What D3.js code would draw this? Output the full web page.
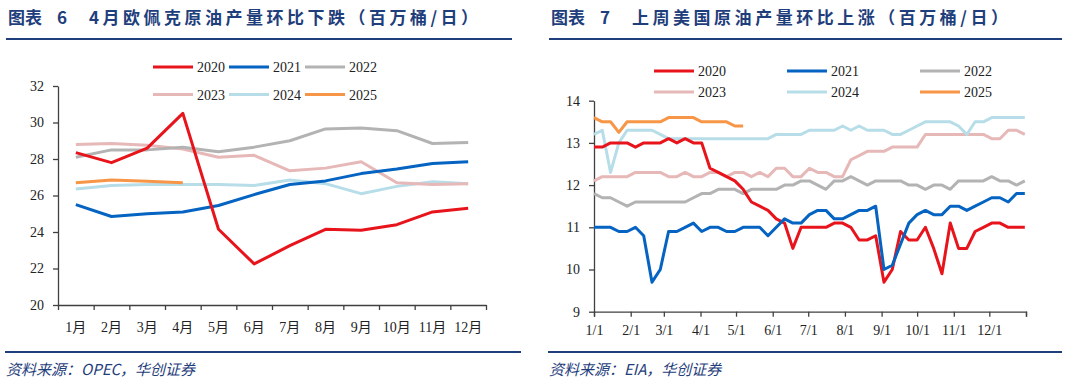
<!DOCTYPE html>
<html>
<head>
<meta charset="utf-8">
<script src="https://cdn.jsdelivr.net/npm/d3@7"></script>
<style>
  body { margin: 0; background: #fff; }
  svg { display: block; }
</style>
</head>
<body>
<svg id="chart" width="1066" height="383"></svg>
<script>
// ---- data: left chart (OPEC monthly, mb/d)
var months = ["1月","2月","3月","4月","5月","6月","7月","8月","9月","10月","11月","12月"];
var opec2020 = [28.35, 27.8, 28.6, 30.5, 24.15, 22.25, 23.25, 24.15, 24.1, 24.4, 25.1, 25.3];
var opec2021 = [25.5, 24.85, 25.0, 25.1, 25.45, 26.05, 26.6, 26.8, 27.2, 27.45, 27.75, 27.85];
var opec2022 = [28.1, 28.5, 28.5, 28.65, 28.4, 28.65, 29.0, 29.65, 29.7, 29.55, 28.85, 28.9];
var opec2023 = [28.8, 28.85, 28.75, 28.55, 28.1, 28.2, 27.35, 27.5, 27.85, 26.7, 26.6, 26.65];
var opec2024 = [26.35, 26.55, 26.6, 26.6, 26.6, 26.55, 26.85, 26.65, 26.1, 26.5, 26.75, 26.65];
var opec2025 = [26.7, 26.85, 26.78, 26.7];

// ---- data: right chart (US weekly, mb/d), one value per week from 1/1
var us2020 = [12.9,12.9,13.0,13.0,13.0,12.9,13.0,13.0,13.0,13.1,13.0,13.1,13.0,13.0,12.4,12.3,12.2,12.1,11.9,11.6,11.5,11.4,11.2,11.1,10.5,11.0,11.0,11.0,11.0,11.1,11.1,11.0,10.7,10.7,10.8,9.7,10.0,10.9,10.7,10.7,11.0,10.5,9.9,11.1,10.5,10.5,10.9,11.0,11.1,11.1,11.0,11.0,11.0];
var us2021 = [11.0,11.0,11.0,10.9,10.9,11.0,10.8,9.7,10.0,10.9,10.9,11.0,11.1,10.9,11.0,11.0,10.9,10.9,11.0,11.0,11.0,10.8,11.0,11.2,11.1,11.1,11.3,11.4,11.4,11.2,11.2,11.3,11.4,11.4,11.5,10.0,10.1,10.6,11.1,11.3,11.4,11.3,11.3,11.5,11.5,11.4,11.5,11.6,11.7,11.7,11.6,11.8,11.8];
var us2022 = [11.8,11.7,11.7,11.6,11.5,11.6,11.6,11.6,11.6,11.6,11.6,11.6,11.7,11.8,11.8,11.9,11.9,11.9,11.8,11.9,11.9,11.9,11.9,12.0,12.0,12.1,12.1,12.0,11.9,12.1,12.1,12.2,12.1,12.0,12.1,12.1,12.1,12.1,12.0,12.0,11.9,12.0,12.0,11.9,12.1,12.1,12.1,12.1,12.2,12.1,12.1,12.0,12.1];
var us2023 = [12.1,12.2,12.2,12.2,12.2,12.3,12.3,12.3,12.3,12.2,12.2,12.3,12.2,12.2,12.3,12.3,12.2,12.3,12.3,12.2,12.3,12.2,12.4,12.4,12.2,12.2,12.4,12.3,12.3,12.2,12.2,12.6,12.7,12.8,12.8,12.8,12.9,12.9,12.9,12.9,13.2,13.2,13.2,13.2,13.2,13.2,13.2,13.2,13.1,13.1,13.3,13.3,13.2];
var us2024 = [13.2,13.3,12.3,13.0,13.3,13.3,13.3,13.3,13.2,13.1,13.1,13.1,13.1,13.1,13.1,13.1,13.1,13.1,13.1,13.1,13.1,13.1,13.2,13.2,13.2,13.2,13.3,13.3,13.3,13.3,13.4,13.3,13.4,13.3,13.3,13.3,13.2,13.2,13.3,13.4,13.5,13.5,13.5,13.5,13.4,13.2,13.5,13.5,13.6,13.6,13.6,13.6,13.6];
var us2025 = [13.6,13.5,13.5,13.25,13.5,13.5,13.5,13.5,13.5,13.6,13.6,13.6,13.6,13.5,13.5,13.5,13.5,13.4,13.4];

var years = ["2020","2021","2022","2023","2024","2025"];
var colors = ["#e8141c","#0563c1","#b3b3b3","#e6b8b7","#b7dde8","#f79646"];
var yTicksLeft = [20,22,24,26,28,30,32];
var yTicksRight = [9,10,11,12,13,14];

var navy = "#1f3e7c";
var axisColor = "#404040";
var numFont = "'Liberation Serif', 'Noto Sans CJK SC', serif";
var cjkFont = "'Noto Sans CJK SC', sans-serif";

var svg = d3.select("#chart");

// ---------- headers, rules and sources
function header(x0, x1, bx1, label, num, title, titleEnd, source) {
  svg.append("text").attr("x", x0 + 2).attr("y", 24)
    .attr("font-family", cjkFont).attr("font-weight", "bold").attr("font-size", 17)
    .attr("fill", navy).text(label);
  svg.append("text").attr("x", x0 + 51).attr("y", 24)
    .attr("font-family", cjkFont).attr("font-weight", "bold").attr("font-size", 17)
    .attr("fill", navy).text(num);
  svg.append("text").attr("x", x0 + 83).attr("y", 24)
    .attr("font-family", cjkFont).attr("font-weight", "bold").attr("font-size", 17)
    .attr("fill", navy).attr("textLength", titleEnd - (x0 + 83)).attr("lengthAdjust", "spacing")
    .text(title);
  svg.append("line").attr("x1", x0).attr("x2", x1).attr("y1", 39).attr("y2", 39)
    .attr("stroke", navy).attr("stroke-width", 2);
  svg.append("line").attr("x1", x0 - 1).attr("x2", bx1).attr("y1", 352).attr("y2", 352)
    .attr("stroke", navy).attr("stroke-width", 2);
  svg.append("text").attr("x", x0).attr("y", 375)
    .attr("font-family", cjkFont).attr("font-style", "italic").attr("font-size", 15)
    .attr("fill", navy).text(source);
}
header(6, 512, 521, "图表", "6", "4月欧佩克原油产量环比下跌（百万桶/日）", 478, "资料来源：OPEC，华创证券");
header(549, 1062, 1062, "图表", "7", "上周美国原油产量环比上涨（百万桶/日）", 1008, "资料来源：EIA，华创证券");

// ---------- left chart
var xL = d3.scaleBand().domain(months).range([58, 486]).padding(0);
var xLedge = d3.scaleLinear().domain([0, 12]).range([58, 486]);
var yL = d3.scaleLinear().domain([20, 32]).range([305, 86]);

var gL = svg.append("g");
gL.append("g").attr("transform", "translate(58,0)")
  .call(d3.axisLeft(yL).tickValues(yTicksLeft).tickSize(5).tickSizeOuter(0).tickPadding(9))
  .call(styleAxis);
gL.append("g").attr("transform", "translate(0,305)")
  .call(d3.axisBottom(xLedge).ticks(12).tickSize(5).tickSizeOuter(0).tickFormat(""))
  .call(styleAxis);
gL.append("g").attr("transform", "translate(0,305)")
  .call(d3.axisBottom(xL).tickSize(0).tickPadding(17))
  .call(function(g) {
    g.select(".domain").remove();
    g.selectAll("text").attr("font-family", numFont).attr("font-size", 14).attr("fill", "#222");
  });

var lineL = d3.line()
  .x(function(d, i) { return xL(months[i]) + xL.bandwidth() / 2; })
  .y(function(d) { return yL(d); });

var leftSeries = [opec2020, opec2021, opec2022, opec2023, opec2024, opec2025];
// draw order: lighter first so red stays on top like the reference
[4, 3, 2, 5, 1, 0].forEach(function(k) {
  gL.append("path").datum(leftSeries[k])
    .attr("d", lineL).attr("fill", "none")
    .attr("stroke", colors[k]).attr("stroke-width", 3)
    .attr("stroke-linejoin", "round");
});

legend(153, 76, 67, 27.5);

// ---------- right chart
var t0 = new Date(2021, 0, 1), t1 = new Date(2022, 0, 1);
var xR = d3.scaleTime().domain([t0, t1]).range([594, 1026]);
var yR = d3.scaleLinear().domain([9, 14]).range([311.7, 100.7]);

var gR = svg.append("g");
gR.append("g").attr("transform", "translate(594,0)")
  .call(d3.axisLeft(yR).tickValues(yTicksRight).tickFormat(d3.format("d"))
    .tickSize(5).tickSizeOuter(0).tickPadding(9))
  .call(styleAxis);
gR.append("g").attr("transform", "translate(0,311.7)")
  .call(d3.axisBottom(xR).ticks(d3.timeMonth.every(1)).tickSize(5).tickSizeOuter(5)
    .tickPadding(8)
    .tickFormat(function(d) { return d.getFullYear() === 2021 ? d3.timeFormat("%-m/%-d")(d) : ""; }))
  .call(styleAxis);

var lineR = d3.line()
  .x(function(d, i) { return xR(d3.timeDay.offset(t0, 7 * i)); })
  .y(function(d) { return yR(d); });

var rightSeries = [us2020, us2021, us2022, us2023, us2024, us2025];
[2, 3, 4, 5, 0, 1].forEach(function(k) {
  gR.append("path").datum(rightSeries[k])
    .attr("d", lineR).attr("fill", "none")
    .attr("stroke", colors[k]).attr("stroke-width", 3)
    .attr("stroke-linejoin", "round");
});

legend(654, 133, 71, 21);

function styleAxis(g) {
  g.select(".domain").attr("stroke", axisColor).attr("stroke-width", 1.3);
  g.selectAll(".tick line").attr("stroke", axisColor).attr("stroke-width", 1.3);
  g.selectAll("text").attr("font-family", numFont).attr("font-size", 14).attr("fill", "#222");
}

function legend(x0, dx, y0, dy) {
  years.forEach(function(y, i) {
    var x = x0 + (i % 3) * dx, yy = y0 + Math.floor(i / 3) * dy;
    svg.append("line").attr("x1", x).attr("x2", x + 40).attr("y1", yy).attr("y2", yy)
      .attr("stroke", colors[i]).attr("stroke-width", 3);
    svg.append("text").attr("x", x + 44).attr("y", yy + 5)
      .attr("font-family", numFont).attr("font-size", 14).attr("fill", "#222").text(y);
  });
}
</script>
</body>
</html>
